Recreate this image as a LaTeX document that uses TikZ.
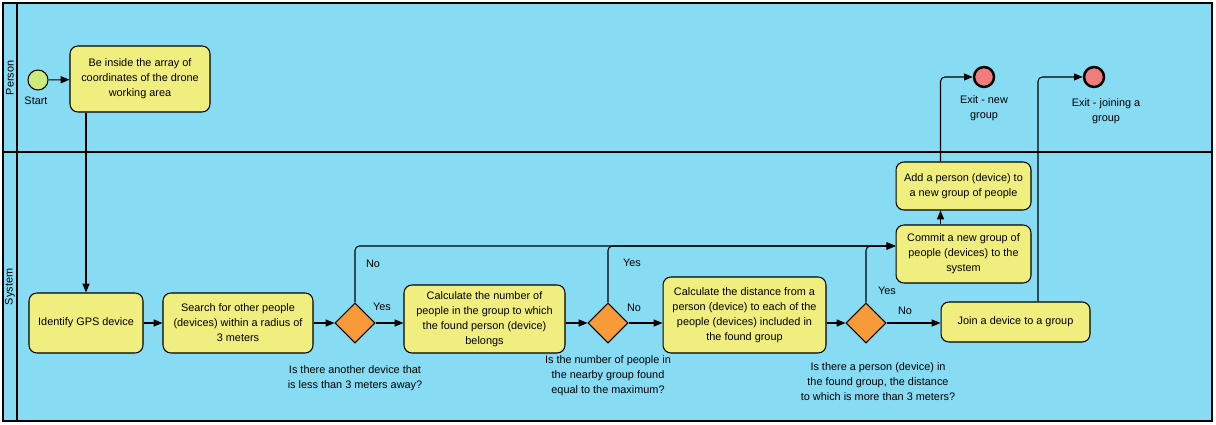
\documentclass[tikz,border=0pt]{standalone}
\usepackage{fontspec}
\setmainfont{Liberation Sans}
\usepackage{xcolor}
\usetikzlibrary{arrows.meta,positioning,shapes.geometric,calc}
\definecolor{LaneBlue}   {RGB}{135, 220, 244}
\definecolor{TaskYellow} {RGB}{240, 238, 126}
\definecolor{GateOrange} {RGB}{248, 154,  58}
\definecolor{StartGreen} {RGB}{205, 234, 123}
\definecolor{EndRed}     {RGB}{240, 124, 124}
\tikzset{
  task/.style={draw=black, fill=TaskYellow, rounded corners=4.5pt,
               line width=0.6pt, align=center, inner sep=2pt,
               font=\fontsize{6.2}{8.5}\selectfont},
  gate/.style={draw=black, fill=GateOrange, diamond, aspect=1,
               minimum size=0.8cm, inner sep=0pt, line width=0.6pt},
  flow/.style={-{Triangle[length=5pt,width=4pt]}, line width=0.6pt,
               rounded corners=2.5pt},
  lbl/.style={font=\fontsize{6.2}{8.5}\selectfont, align=center},
}

\begin{document}
\begin{tikzpicture}[x=0.02cm, y=-0.02cm]
      \useasboundingbox (0,0) rectangle (1216,425);
      % Lanes
      \fill[LaneBlue] (3,3) rectangle (1212,421);
      \draw[line width=0.6pt] (3,3) rectangle (1212,421);
      \draw[line width=0.6pt] (17,3) -- (17,421);
      \draw[line width=0.6pt] (3,152) -- (1212,152);
      \node[lbl, rotate=90] (laneperson) at (10,78) {Person};
      \node[lbl, rotate=90] (lanesystem) at (10,287) {System};
      % Events
      \node[draw, fill=StartGreen, circle, minimum size=0.4cm,
            inner sep=0pt, line width=0.6pt] (start) at (38,80) {};
      \node[lbl] (startlbl) at (36,101) {Start};
      \node[draw, fill=EndRed, circle, minimum size=0.4cm,
            inner sep=0pt, line width=1.4pt] (exitnew) at (984,77) {};
      \node[lbl] (exitnewlbl) at (984,108) {Exit - new\\group};
      \node[draw, fill=EndRed, circle, minimum size=0.4cm,
            inner sep=0pt, line width=1.4pt] (exitjoin) at (1094,77) {};
      \node[lbl] (exitjoinlbl) at (1106,111) {Exit - joining a\\group};
      % Tasks
      \node[task, minimum width=2.8cm, minimum height=1.32cm] (inside) at (140,79)
        {Be inside the array of\\coordinates of the drone\\working area};
      \node[task, minimum width=2.28cm, minimum height=1.2cm] (gps) at (86,323)
        {Identify GPS device};
      \node[task, minimum width=3.0cm, minimum height=1.2cm] (search) at (238,323)
        {Search for other people\\(devices) within a radius of\\3 meters};
      \node[task, minimum width=3.22cm, minimum height=1.36cm] (calcnum) at (484.5,319)
        {Calculate the number of\\people in the group to which\\the found person (device)\\belongs};
      \node[task, minimum width=3.26cm, minimum height=1.52cm] (calcdist) at (744.5,315)
        {Calculate the distance from a\\person (device) to each of the\\people (devices) included in\\the found group};
      \node[task, minimum width=2.98cm, minimum height=0.8cm] (join) at (1015.5,322)
        {Join a device to a group};
      \node[task, minimum width=2.7cm, minimum height=1.16cm] (commit) at (963.5,254)
        {Commit a new group of\\people (devices) to the\\system};
      \node[task, minimum width=2.7cm, minimum height=0.96cm] (add) at (963.5,186)
        {Add a person (device) to\\a new group of people};
      % Gateways
      \node[gate] (gate1) at (355,323) {};
      \node[gate] (gate2) at (608,323) {};
      \node[gate] (gate3) at (866,323) {};
      \node[lbl] (gate1q) at (355,378.5)
        {Is there another device that\\is less than 3 meters away?};
      \node[lbl] (gate2q) at (608,376)
        {Is the number of people in\\the nearby group found\\equal to the maximum?};
      \node[lbl] (gate3q) at (878,382)
        {Is there a person (device) in\\the found group, the distance\\to which is more than 3 meters?};
      % Flows
      \draw[flow] (start) -- (inside);
      \draw[flow] (gps.north |- inside.south) -- (gps.north);
      \draw[flow] (gps) -- (search);
      \draw[flow] (search) -- (gate1);
      \draw[flow] (gate1) -- (gate1 -| calcnum.west);
      \draw[flow] (gate1.north) |- ([yshift=0.16cm]commit.west);
      \draw[flow] (calcnum.east |- gate2) -- (gate2);
      \draw[flow] (gate2.north) |- ([yshift=0.16cm]commit.west);
      \draw[flow] (gate2) -- (gate2 -| calcdist.west);
      \draw[flow] (calcdist.east |- gate3) -- (gate3);
      \draw[flow] (gate3.north) |- ([yshift=0.16cm]commit.west);
      \draw[flow] (gate3) -- (gate3 -| join.west);
      \draw[flow] ([xshift=-0.46cm]commit.north) -- ([xshift=-0.46cm]add.south);
      \draw[flow] ([xshift=-0.46cm]add.north) |- (exitnew);
      \draw[flow] ([xshift=0.45cm]join.north) |- (exitjoin);
      % Flow labels
      \node[lbl] (no1) at (373,264) {No};
      \node[lbl] (yes1) at (382,307) {Yes};
      \node[lbl] (yes2) at (632,263) {Yes};
      \node[lbl] (no2) at (634,308) {No};
      \node[lbl] (yes3) at (887,291) {Yes};
      \node[lbl] (no3) at (905,311) {No};
    \end{tikzpicture}
\end{document}
